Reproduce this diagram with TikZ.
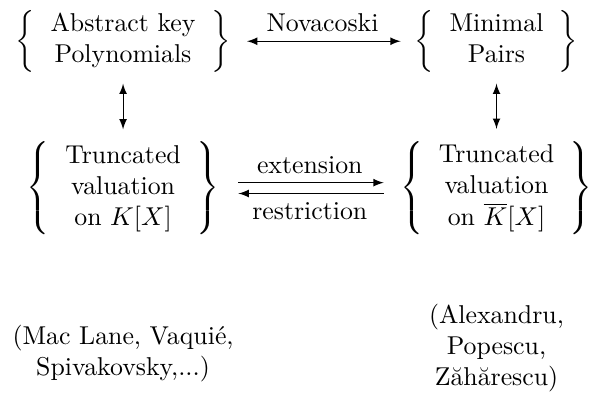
\documentclass[tikz,border=0pt]{standalone}
\usepackage{amsmath}
\usepackage{tikz}

\begin{document}
\begin{tikzpicture}[x=0.75pt,y=0.75pt,yscale=-1,xscale=1]
\useasboundingbox (0,0) rectangle (304.4,205.2);

% Text Node
\draw (63.6,21.3) node [inner sep=0.75pt] (akp) {$\left\{\begin{tabular}{c}Abstract key\\Polynomials\end{tabular}\right\}$};
% Text Node
\draw (256.6,21.3) node [inner sep=0.75pt] (mp) {$\left\{\begin{tabular}{c}Minimal\\Pairs\end{tabular}\right\}$};
% Text Node
\draw (63.6,97.2) node [inner sep=0.75pt] (tvk) {$\left\{\begin{tabular}{c}Truncated\\valuation\\on $K[X]$\end{tabular}\right\}$};
% Text Node
\draw (256.6,97.2) node [inner sep=0.75pt] (tvkb) {$\left\{\begin{tabular}{c}Truncated\\valuation\\on $\overline{K}[X]$\end{tabular}\right\}$};
% Text Node
\draw (63.6,182.8) node [inner sep=0.75pt, align=center] (ml) {(Mac Lane, Vaquié,\\Spivakovsky,...)};
% Text Node
\draw (256.6,179.8) node [inner sep=0.75pt, align=center] (apz) {(Alexandru,\\Popescu,\\Zăhărescu)};

%Straight Lines [id:novacoski]
\draw [latex-latex, shorten <=5.5pt, shorten >=4.5pt] (akp.east) -- (mp.west) node [midway, above] {Novacoski};
%Straight Lines [id:left]
\draw [latex-latex, shorten <=3.5pt, shorten >=3.8pt] (akp.south) -- (tvk.north);
%Straight Lines [id:right]
\draw [latex-latex, shorten <=3.5pt, shorten >=3.8pt] (mp.south) -- (tvkb.north);
%Straight Lines [id:ext]
\draw [-latex, shorten <=6.5pt, shorten >=5.5pt] ([yshift=-2.1pt]tvk.east) -- ([yshift=-2.1pt]tvkb.west) node [midway, above] {extension};
%Straight Lines [id:res]
\draw [-latex, shorten <=5.5pt, shorten >=6.5pt] ([yshift=2.1pt]tvkb.west) -- ([yshift=2.1pt]tvk.east) node [midway, below] {restriction};

\end{tikzpicture}
\end{document}
